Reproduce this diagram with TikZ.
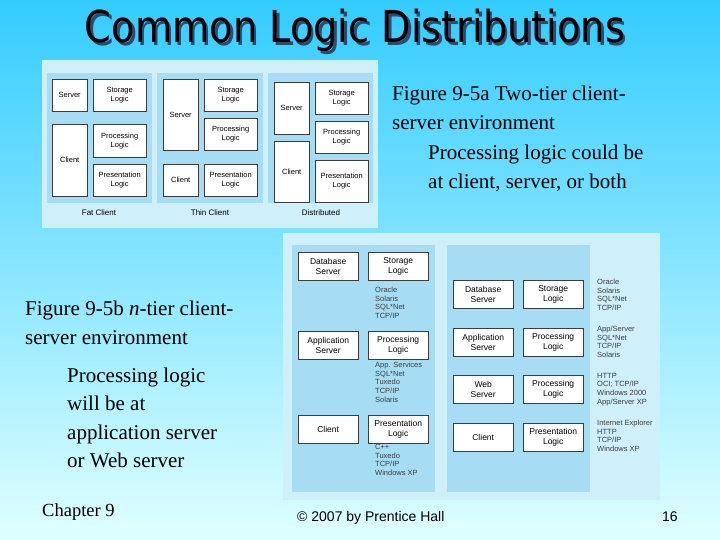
\documentclass[tikz,border=0pt]{standalone}
\usepackage{fontspec}
\setmainfont{Liberation Serif}
\setsansfont{Liberation Sans}
\newfontfamily\titlefont[FakeStretch=0.87]{DejaVu Sans}
\usetikzlibrary{positioning}
\definecolor{bgtop}{HTML}{33CCFF}
\definecolor{bgbot}{HTML}{E0FFFF}
\definecolor{panell}{HTML}{CFEFFB}
\definecolor{paneld}{HTML}{A6DDF5}
\definecolor{boxline}{HTML}{3C3C3C}
\definecolor{shadow}{HTML}{2E4A6E}

\begin{document}
\begin{tikzpicture}[x=1pt, y=-1pt,
  lbox/.style={draw=boxline, fill=white, line width=0.4pt, inner sep=0pt, align=center,
               font=\sffamily\fontsize{7.5}{9}\selectfont, anchor=north west},
  nbox/.style={lbox, minimum width=60, minimum height=28, font=\sffamily\fontsize{8.5}{10}\selectfont},
  tech/.style={anchor=north west, inner sep=0pt, align=left, text=boxline,
               font=\sffamily\fontsize{7.5}{8.6}\selectfont},
  figcap/.style={inner sep=0pt, font=\sffamily\fontsize{8}{9}\selectfont},
  body/.style={anchor=north west, inner sep=0pt, align=left, font=\fontsize{21}{28.8}\selectfont}
]
% ---------------- slide
\shade[top color=bgtop, bottom color=bgbot] (0,0) rectangle (720,540);
\node[anchor=base, inner sep=0pt, text=shadow, font=\titlefont\fontsize{44}{44}\selectfont] (titsh) at (357.5,45.5) {Common Logic Distributions};
\node[anchor=base, inner sep=0pt, font=\titlefont\fontsize{44}{44}\selectfont] (title) at (355,43) {Common Logic Distributions};
% ---------------- figure 9-5a
\fill[panell] (42,60) rectangle (378,228);
\fill[paneld] (47,73) rectangle (152,203);
\fill[paneld] (157,73) rectangle (263,203);
\fill[paneld] (268,73) rectangle (373,203);
% fat client
\node[lbox, minimum width=35, minimum height=32] (fsrv) at (52,79) {Server};
\node[lbox, minimum width=53, minimum height=32] (fsto) at (93,79) {Storage\\Logic};
\node[lbox, minimum width=35, minimum height=72] (fcli) at (52,124) {Client};
\node[lbox, minimum width=53, minimum height=33] (fpro) at (93,124) {Processing\\Logic};
\node[lbox, minimum width=53, minimum height=32] (fpre) at (93,164) {Presentation\\Logic};
% thin client
\node[lbox, minimum width=35, minimum height=71] (tsrv) at (163,79) {Server};
\node[lbox, minimum width=53, minimum height=32] (tsto) at (204,79) {Storage\\Logic};
\node[lbox, minimum width=53, minimum height=32] (tpro) at (204,118) {Processing\\Logic};
\node[lbox, minimum width=35, minimum height=32] (tcli) at (163,164) {Client};
\node[lbox, minimum width=53, minimum height=32] (tpre) at (204,164) {Presentation\\Logic};
% distributed
\node[lbox, minimum width=35, minimum height=52] (dsrv) at (274,82) {Server};
\node[lbox, minimum width=35, minimum height=61] (dcli) at (274,141) {Client};
\node[lbox, minimum width=53, minimum height=32] (dsto) at (315,82) {Storage\\Logic};
\node[lbox, minimum width=53, minimum height=32] (dpro) at (315,121) {Processing\\Logic};
\node[lbox, minimum width=53, minimum height=42] (dpre) at (315,160) {Presentation\\Logic};
\node[figcap] (fat) at (99,213) {Fat Client};
\node[figcap] (thin) at (210,213) {Thin Client};
\node[figcap] (dist) at (321,213) {Distributed};
% ---------------- figure 9-5b
\fill[panell] (283,233) rectangle (660,500);
\fill[paneld] (292,245) rectangle (435,492);
\fill[paneld] (447,245) rectangle (590,492);
% three tier
\node[nbox] (ldb) at (298,252) {Database\\Server};
\node[nbox] (lsto) at (368,252) {Storage\\Logic};
\node[tech] (ltx1) at (375,287) {Oracle\\Solaris\\SQL*Net\\TCP/IP};
\node[nbox] (lapp) at (298,331) {Application\\Server};
\node[nbox] (lpro) at (368,331) {Processing\\Logic};
\node[tech] (ltx2) at (375,362) {App. Services\\SQL*Net\\Tuxedo\\TCP/IP\\Solaris};
\node[nbox] (lcli) at (298,415) {Client};
\node[nbox] (lpre) at (368,415) {Presentation\\Logic};
\node[tech] (ltx3) at (375,444) {C++\\Tuxedo\\TCP/IP\\Windows XP};
% four tier
\node[nbox] (rdb) at (453,280) {Database\\Server};
\node[nbox] (rsto) at (523,280) {Storage\\Logic};
\node[nbox] (rapp) at (453,328) {Application\\Server};
\node[nbox] (rpro) at (523,328) {Processing\\Logic};
\node[nbox] (rweb) at (453,375) {Web\\Server};
\node[nbox] (rpro2) at (523,375) {Processing\\Logic};
\node[nbox] (rcli) at (453,423) {Client};
\node[nbox] (rpre) at (523,423) {Presentation\\Logic};
\node[tech] (rtx1) at (597,279) {Oracle\\Solaris\\SQL*Net\\TCP/IP};
\node[tech] (rtx2) at (597,326) {App/Server\\SQL*Net\\TCP/IP\\Solaris};
\node[tech] (rtx3) at (597,373) {HTTP\\OCI; TCP/IP\\Windows 2000\\App/Server XP};
\node[tech] (rtx4) at (597,420) {Internet Explorer\\HTTP\\TCP/IP\\Windows XP};
% ---------------- captions
\node[body] (capa) at (392,86) {Figure 9-5a Two-tier client-\\server environment};
\node[body] (nota) at (428,145) {Processing logic could be\\at client, server, or both};
\node[body] (capb) at (25,301) {Figure 9-5b \textit{n}-tier client-\\server environment};
\node[body, font=\fontsize{21}{28.2}\selectfont] (notb) at (67,368) {Processing logic\\will be at\\application server\\or Web server};
\node[anchor=base west, inner sep=0pt, font=\fontsize{18.5}{21}\selectfont] (chap) at (42,516) {Chapter 9};
\node[anchor=base west, inner sep=0pt, font=\sffamily\fontsize{14}{16}\selectfont] (copy) at (297,521) {© 2007 by Prentice Hall};
\node[anchor=base west, inner sep=0pt, font=\sffamily\fontsize{14}{16}\selectfont] (page) at (662,521) {16};
\end{tikzpicture}
\end{document}
